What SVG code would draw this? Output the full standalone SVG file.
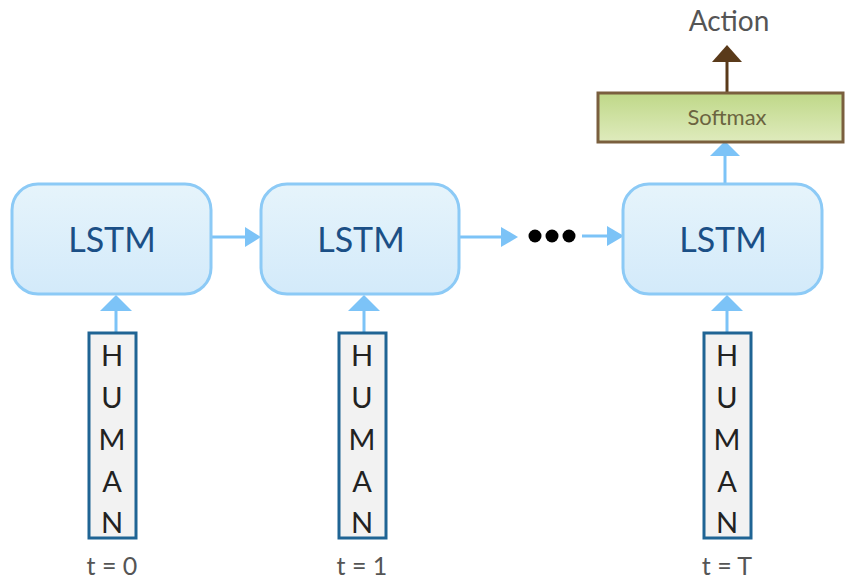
<svg xmlns="http://www.w3.org/2000/svg" width="846" height="579" viewBox="0 0 846 579">
  <defs>
    <linearGradient id="lstmFill" x1="0" y1="0" x2="0" y2="1">
      <stop offset="0" stop-color="#e6f4fb"/>
      <stop offset="1" stop-color="#d3eafa"/>
    </linearGradient>
    <linearGradient id="softFill" x1="0" y1="0" x2="0" y2="1">
      <stop offset="0" stop-color="#bfd888"/>
      <stop offset="1" stop-color="#dfebbd"/>
    </linearGradient>
  </defs>
  <style>
    .lstm rect { fill: url(#lstmFill); stroke: #8ccaf6; stroke-width: 3; }
    .lstm text { font-family: Lato, "Liberation Sans", sans-serif; font-size: 34px; fill: #1b4f86; text-anchor: middle; }
    .human rect { fill: #f2f2f2; stroke: #1f6494; stroke-width: 3; }
    .human text { font-family: Lato, "Liberation Sans", sans-serif; font-size: 29px; fill: #222; text-anchor: middle; }
    .time { font-family: Lato, "Liberation Sans", sans-serif; font-size: 25px; fill: #555; text-anchor: middle; }
    .blue { stroke: #7cc3f7; stroke-width: 3; fill: none; }
    .bluehead { fill: #7cc3f7; }
    .brown { stroke: #5a3a1a; stroke-width: 3; fill: none; }
    .brownhead { fill: #5a3a1a; }
  </style>

  <!-- connectors -->
  <g id="connectors">
    <!-- LSTM 0 -> LSTM 1 -->
    <line class="blue" x1="211" y1="237" x2="247" y2="237"/>
    <polygon class="bluehead" points="261,237 245,227 245,247"/>
    <!-- LSTM 1 -> ellipsis -->
    <line class="blue" x1="459" y1="237" x2="502" y2="237"/>
    <polygon class="bluehead" points="518,237 501,227 501,247"/>
    <!-- ellipsis -> LSTM T -->
    <line class="blue" x1="582" y1="236" x2="609" y2="236"/>
    <polygon class="bluehead" points="624,236 607,226 607,246"/>
    <!-- HUMAN -> LSTM -->
    <line class="blue" x1="116" y1="333" x2="116" y2="308"/>
    <polygon class="bluehead" points="116,295 100,311 132,311"/>
    <line class="blue" x1="364" y1="333" x2="364" y2="308"/>
    <polygon class="bluehead" points="364,295 348,311 380,311"/>
    <line class="blue" x1="727" y1="333" x2="727" y2="308"/>
    <polygon class="bluehead" points="727,295 711,311 743,311"/>
    <!-- LSTM T -> Softmax -->
    <line class="blue" x1="725" y1="184" x2="725" y2="154"/>
    <polygon class="bluehead" points="725,141 710,156 740,156"/>
    <!-- Softmax -> Action -->
    <line class="brown" x1="727" y1="93" x2="727" y2="60"/>
    <polygon class="brownhead" points="727,45 712,62 742,62"/>
    <!-- ellipsis dots -->
    <circle cx="535" cy="236" r="6.5" fill="#000"/>
    <circle cx="552" cy="236" r="6.5" fill="#000"/>
    <circle cx="569" cy="236" r="6.5" fill="#000"/>
  </g>

  <!-- LSTM cells -->
  <g id="lstm0" class="lstm">
    <rect x="12" y="184" width="199" height="110" rx="26"/>
    <text x="112" y="252">LSTM</text>
  </g>
  <g id="lstm1" class="lstm">
    <rect x="261" y="184" width="198" height="110" rx="26"/>
    <text x="361" y="252">LSTM</text>
  </g>
  <g id="lstmT" class="lstm">
    <rect x="623" y="184" width="199" height="110" rx="26"/>
    <text x="723" y="252">LSTM</text>
  </g>

  <!-- Softmax layer -->
  <g id="softmax">
    <rect x="598" y="93" width="245" height="49" fill="url(#softFill)" stroke="#7a5f3e" stroke-width="3"/>
    <text x="727" y="125" font-family="Lato, 'Liberation Sans', sans-serif" font-size="22" fill="#6b6440" text-anchor="middle">Softmax</text>
  </g>

  <!-- Output label -->
  <g id="action">
    <text x="729" y="31" font-family="Lato, 'Liberation Sans', sans-serif" font-size="28" fill="#555" text-anchor="middle">Action</text>
  </g>

  <!-- HUMAN inputs -->
  <g id="human0" class="human">
    <rect x="89" y="333" width="47" height="205"/>
    <text x="112" y="366">H</text>
    <text x="112" y="408">U</text>
    <text x="112" y="450">M</text>
    <text x="112" y="492">A</text>
    <text x="112" y="533">N</text>
  </g>
  <g id="human1" class="human">
    <rect x="339" y="333" width="47" height="205"/>
    <text x="362" y="366">H</text>
    <text x="362" y="408">U</text>
    <text x="362" y="450">M</text>
    <text x="362" y="492">A</text>
    <text x="362" y="533">N</text>
  </g>
  <g id="humanT" class="human">
    <rect x="704" y="333" width="47" height="205"/>
    <text x="727" y="366">H</text>
    <text x="727" y="408">U</text>
    <text x="727" y="450">M</text>
    <text x="727" y="492">A</text>
    <text x="727" y="533">N</text>
  </g>

  <!-- time step labels -->
  <g id="times">
    <text class="time" x="112" y="575">t = 0</text>
    <text class="time" x="362" y="575">t = 1</text>
    <text class="time" x="727" y="575">t = T</text>
  </g>
</svg>
